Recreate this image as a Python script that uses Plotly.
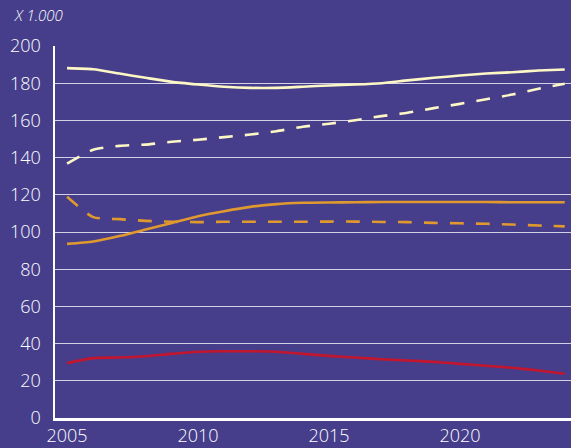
import plotly.graph_objects as go

years = list(range(2005, 2025))

white_solid = [188.1, 187.5, 185.2, 182.9, 180.7, 179.3, 178.1, 177.5, 177.5, 178.1,
               178.8, 179.3, 180.0, 181.5, 182.9, 184.1, 185.2, 185.9, 186.8, 187.4]
white_dashed = [136.8, 144.2, 146.3, 147.0, 148.5, 149.6, 151.0, 152.4, 154.2, 156.6,
                158.2, 160.1, 162.3, 164.1, 166.6, 168.9, 171.4, 173.9, 177.0, 179.7]
orange_solid = [93.6, 94.9, 97.8, 101.3, 104.9, 108.5, 111.2, 113.5, 115.0, 115.7,
                115.9, 116.0, 116.1, 116.1, 116.1, 116.1, 116.1, 116.0, 116.0, 116.0]
orange_dashed = [118.9, 108.0, 106.9, 106.0, 105.5, 105.3, 105.5, 105.5, 105.5, 105.5,
                 105.6, 105.6, 105.4, 105.3, 104.9, 104.7, 104.4, 104.0, 103.5, 103.0]
red_solid = [29.5, 32.2, 32.5, 33.2, 34.5, 35.6, 35.9, 35.9, 35.6, 34.5,
             33.4, 32.5, 31.6, 30.9, 30.2, 29.1, 28.1, 27.0, 25.5, 23.8]

y_ticks = [0, 20, 40, 60, 80, 100, 120, 140, 160, 180, 200]
x_ticks = [2005, 2010, 2015, 2020]

BG = "#463E8A"
CREAM = "#FDF7C6"
ORANGE = "#E0992E"
RED = "#C2162E"
TXT = "#FFFFFF"

W, H = 571, 448
ML, MR, MT, MB = 55, 0, 46, 30
PW, PH = W - ML - MR, H - MT - MB

fig = go.Figure()
series = [
    (white_solid, CREAM, "solid"),
    (white_dashed, CREAM, "14px,12px"),
    (orange_solid, ORANGE, "solid"),
    (orange_dashed, ORANGE, "14px,12px"),
    (red_solid, RED, "solid"),
]
for vals, col, dash in series:
    fig.add_trace(go.Scatter(x=years, y=vals, mode="lines",
                             line=dict(color=col, width=2.6, dash=dash, shape="spline", smoothing=0.6),
                             hoverinfo="skip", showlegend=False))

tick_font = dict(family="Open Sans, sans-serif", size=18, color=TXT, weight=300)

fig.update_layout(
    width=W, height=H,
    paper_bgcolor=BG, plot_bgcolor=BG,
    margin=dict(l=ML, r=MR, t=MT, b=MB),
    font=dict(family="Open Sans, sans-serif", color=TXT, size=18),
    hovermode=False,
    xaxis=dict(range=[2004.54, 2024.24], tickvals=x_ticks, showgrid=False, zeroline=False,
               showline=True, linecolor="white", linewidth=2.5, ticks="", tickfont=tick_font,
               ticklabelstandoff=0, fixedrange=True),
    yaxis=dict(range=[0, 200], tickvals=y_ticks, showgrid=True, gridcolor="rgba(235,235,245,0.85)",
               gridwidth=1, zeroline=False, showline=True, linecolor="white", linewidth=2.5,
               ticks="", tickfont=tick_font, ticklabelstandoff=8, fixedrange=True),
    annotations=[dict(text="<i>X 1.000</i>", x=(12 - ML) / PW, y=(H - MB - 15) / PH,
                      xref="paper", yref="paper", xanchor="left", yanchor="middle",
                      showarrow=False, font=dict(family="Open Sans, sans-serif", size=15,
                                                  color=TXT, weight=300))],
)
fig.write_html("out.html", config={"displayModeBar": False, "staticPlot": True},
               post_script="document.body.style.margin='0';document.body.style.overflow='hidden';")
